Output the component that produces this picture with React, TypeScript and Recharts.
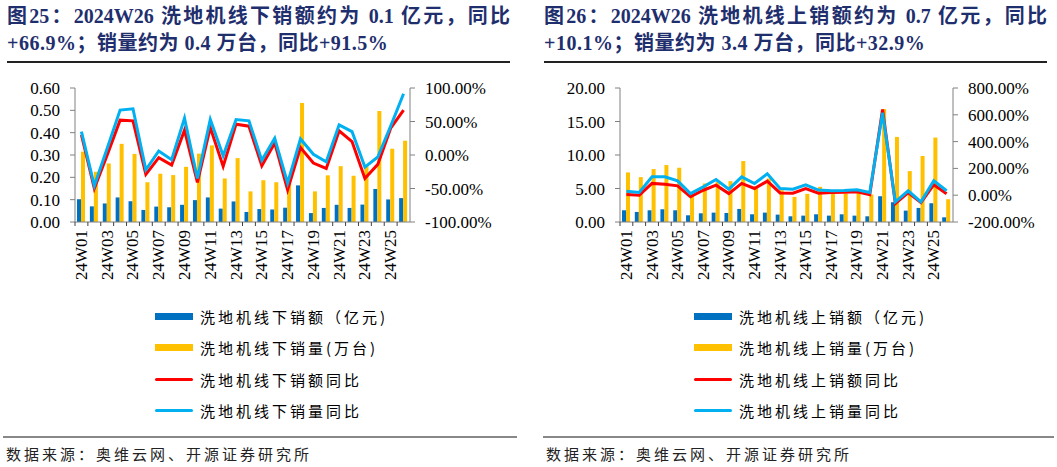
import React from "react";
import { Bar, ComposedChart, Line, XAxis, YAxis } from "recharts";

const weeks = [
  "24W01", "24W02", "24W03", "24W04", "24W05", "24W06", "24W07", "24W08", "24W09",
  "24W10", "24W11", "24W12", "24W13", "24W14", "24W15", "24W16", "24W17", "24W18",
  "24W19", "24W20", "24W21", "24W22", "24W23", "24W24", "24W25", "24W26",
];

// 线下
const offlineAmount = [
  0.102, 0.07, 0.083, 0.11, 0.093, 0.054, 0.069, 0.066, 0.077, 0.098, 0.11, 0.06, 0.092,
  0.045, 0.058, 0.056, 0.064, 0.164, 0.04, 0.063, 0.077, 0.063, 0.078, 0.148, 0.101, 0.107,
];
const offlineVolume = [
  0.315, 0.225, 0.262, 0.35, 0.305, 0.178, 0.216, 0.21, 0.247, 0.306, 0.343, 0.195, 0.286,
  0.137, 0.187, 0.178, 0.203, 0.533, 0.137, 0.209, 0.25, 0.207, 0.254, 0.497, 0.328, 0.364,
];
const offlineAmountYoy = [
  30, -50, 0, 52, 51, -29, -4, -15, 37, -41, 41, -17, 46, 43, -16, 18, -52, 11, -12, -20,
  36, 20, -35, -14, 40, 66.9,
];
const offlineVolumeYoy = [
  35, -46, 10, 67, 69, -22, 6, -7, 55, -35, 53, -1, 53, 51, -8, 25, -42, 24, 1, -10, 45,
  35, -18, -3, 43, 91.5,
];

// 线上
const onlineAmount = [
  1.75, 1.5, 1.75, 1.9, 1.75, 1.0, 1.3, 1.4, 1.35, 1.95, 1.15, 1.4, 1.1, 0.85, 0.95, 1.15,
  0.95, 1.15, 0.95, 0.85, 3.85, 2.95, 1.7, 2.1, 2.8, 0.7,
];
const onlineVolume = [
  7.4, 6.7, 7.9, 8.5, 8.1, 4.2, 5.75, 6.0, 6.1, 9.1, 5.3, 6.5, 4.75, 3.75, 4.2, 5.25, 4.25,
  4.25, 4.5, 4.1, 16.85, 12.7, 7.6, 9.85, 12.6, 3.4,
];
const onlineAmountYoy = [
  5, 0, 88, 82, 70, -12, 37, 75, 12, 88, 50, 105, 17, 15, 50, 15, 20, 22, 25, 3, 640, -63,
  20, -55, 78, 10.1,
];
const onlineVolumeYoy = [
  30, 20, 137, 137, 107, 12, 62, 117, 45, 137, 87, 160, 50, 45, 78, 38, 33, 35, 40, 20, 615,
  -50, 33, -50, 108, 32.9,
];

const offLeftTicks = [0, 0.1, 0.2, 0.3, 0.4, 0.5, 0.6];
const offRightTicks = [-100, -50, 0, 50, 100];
const onLeftTicks = [0, 5, 10, 15, 20];
const onRightTicks = [-200, 0, 200, 400, 600, 800];

const BLUE = "#0070C0";
const YELLOW = "#FFC000";
const RED = "#FF0000";
const CYAN = "#00B0F0";
const AXIS = "#808080";
const SERIF = '"Liberation Serif", "Times New Roman", serif';
const CJK = '"Liberation Serif", "Noto Sans CJK SC", sans-serif';

const TOP = 88;
const BOTTOM = 222;
const CH_H = 300;

function build(a: number[], v: number[], ay: number[], vy: number[]) {
  return weeks.map((w, i) => ({ week: w, amt: a[i], vol: v[i], amtYoy: ay[i], volYoy: vy[i] }));
}

interface PanelProps {
  title1: string;
  title2: string;
  titleLeft: number;
  plotLeft: number;
  plotRight: number;
  legendLeft: number;
  footLeft: number;
  footRight: number;
  data: any[];
  leftTicks: number[];
  rightTicks: number[];
  labels: string[];
}

function Panel(p: PanelProps) {
  const chartLeft = p.plotLeft - 75;
  const width = p.plotRight - chartLeft + 100;
  const step = (p.plotRight - p.plotLeft) / weeks.length;

  const XTick = (props: any) => {
    const { x, index } = props;
    return (
      <g>
        <line x1={x - step / 2} x2={x - step / 2} y1={BOTTOM} y2={BOTTOM + 4} stroke="#404040" />
        {index % 2 === 0 && (
          <text
            x={x}
            y={BOTTOM + 8}
            transform={`rotate(-90, ${x}, ${BOTTOM + 8})`}
            textAnchor="end"
            dominantBaseline="central"
            fontSize={17}
            fontFamily={SERIF}
            fill="#000"
          >
            {props.payload.value}
          </text>
        )}
      </g>
    );
  };

  const legendRows = [
    { label: p.labels[0], color: BLUE, bar: true },
    { label: p.labels[1], color: YELLOW, bar: true },
    { label: p.labels[2], color: RED, bar: false },
    { label: p.labels[3], color: CYAN, bar: false },
  ];

  const titleStyle: React.CSSProperties = {
    position: "absolute",
    left: p.titleLeft,
    fontFamily: CJK,
    fontWeight: "bold",
    fontSize: 20,
    letterSpacing: 0.5,
    color: "#1F2F6E",
    lineHeight: "28px",
    whiteSpace: "nowrap",
  };

  return (
    <>
      <div
        style={{
          ...titleStyle,
          top: 2,
          width: 503,
          letterSpacing: 0,
          textAlign: "justify",
          textAlignLast: "justify",
        }}
      >
        {p.title1}
      </div>
      <div style={{ ...titleStyle, top: 29 }}>{p.title2}</div>
      <div
        style={{
          position: "absolute",
          left: p.titleLeft,
          top: 61,
          width: 503,
          height: 2,
          background: "#222",
        }}
      />
      <div style={{ position: "absolute", left: chartLeft, top: 0 }}>
        <ComposedChart
          width={width}
          height={CH_H}
          data={p.data}
          margin={{ top: TOP, right: 40, left: 15, bottom: 8 }}
          barGap={0}
        >
          <XAxis
            dataKey="week"
            interval={0}
            height={70}
            tick={<XTick />}
            tickLine={false}
            axisLine={{ stroke: AXIS }}
          />
          <YAxis
            yAxisId="l"
            width={60}
            interval={0}
            domain={[p.leftTicks[0], p.leftTicks[p.leftTicks.length - 1]]}
            ticks={p.leftTicks}
            tickFormatter={(v: number) => v.toFixed(2)}
            tick={{ fontSize: 17, fontFamily: SERIF, fill: "#000" }}
            tickSize={5}
            tickMargin={10}
            axisLine={{ stroke: AXIS }}
            tickLine={{ stroke: AXIS }}
          />
          <YAxis
            yAxisId="r"
            orientation="right"
            width={60}
            interval={0}
            domain={[p.rightTicks[0], p.rightTicks[p.rightTicks.length - 1]]}
            ticks={p.rightTicks}
            tickFormatter={(v: number) => `${v.toFixed(2)}%`}
            tick={{ fontSize: 17, fontFamily: SERIF, fill: "#000", textAnchor: "start" }}
            tickSize={5}
            tickMargin={10}
            axisLine={{ stroke: AXIS }}
            tickLine={{ stroke: AXIS }}
          />
          <Bar yAxisId="l" dataKey="amt" fill={BLUE} barSize={4} isAnimationActive={false} />
          <Bar yAxisId="l" dataKey="vol" fill={YELLOW} barSize={4} isAnimationActive={false} />
          <Line
            yAxisId="r"
            dataKey="amtYoy"
            stroke={RED}
            strokeWidth={3}
            dot={false}
            type="linear"
            isAnimationActive={false}
          />
          <Line
            yAxisId="r"
            dataKey="volYoy"
            stroke={CYAN}
            strokeWidth={3}
            dot={false}
            type="linear"
            isAnimationActive={false}
          />
        </ComposedChart>
      </div>
      {legendRows.map((r, i) => (
        <div
          key={r.label}
          style={{
            position: "absolute",
            left: p.legendLeft,
            top: 305 + i * 31.5,
            height: 22,
            display: "flex",
            alignItems: "center",
            whiteSpace: "nowrap",
          }}
        >
          <span
            style={{
              display: "inline-block",
              width: 38,
              height: r.bar ? 7 : 3,
              background: r.color,
              borderRadius: r.bar ? 0 : 2,
              marginRight: 7,
            }}
          />
          <span
            style={{
              fontFamily: '"Noto Sans CJK SC", sans-serif',
              fontSize: 15,
              letterSpacing: 3,
              color: "#000",
            }}
          >
            {r.label}
          </span>
        </div>
      ))}
      <div
        style={{
          position: "absolute",
          left: p.footLeft,
          top: 436,
          width: p.footRight - p.footLeft,
          height: 2,
          background: "#888",
        }}
      />
      <div
        style={{
          position: "absolute",
          left: p.footLeft + 3,
          top: 443,
          fontFamily: '"Noto Sans CJK SC", sans-serif',
          fontSize: 15,
          letterSpacing: 3,
          color: "#222",
          whiteSpace: "nowrap",
        }}
      >
        数据来源：奥维云网、开源证券研究所
      </div>
    </>
  );
}

export default function App() {
  const offData = build(offlineAmount, offlineVolume, offlineAmountYoy, offlineVolumeYoy);
  const onData = build(onlineAmount, onlineVolume, onlineAmountYoy, onlineVolumeYoy);
  return (
    <div
      style={{
        position: "absolute",
        left: 0,
        top: 0,
        width: 1057,
        height: 467,
        background: "#fff",
        overflow: "hidden",
      }}
    >
      <Panel
        title1="图25：2024W26 洗地机线下销额约为 0.1 亿元，同比"
        title2="+66.9%；销量约为 0.4 万台，同比+91.5%"
        titleLeft={7}
        plotLeft={75}
        plotRight={410}
        legendLeft={155}
        footLeft={3}
        footRight={517}
        data={offData}
        leftTicks={offLeftTicks}
        rightTicks={offRightTicks}
        labels={["洗地机线下销额（亿元)", "洗地机线下销量(万台)", "洗地机线下销额同比", "洗地机线下销量同比"]}
      />
      <Panel
        title1="图26：2024W26 洗地机线上销额约为 0.7 亿元，同比"
        title2="+10.1%；销量约为 3.4 万台，同比+32.9%"
        titleLeft={544}
        plotLeft={620}
        plotRight={953}
        legendLeft={694}
        footLeft={543}
        footRight={1054}
        data={onData}
        leftTicks={onLeftTicks}
        rightTicks={onRightTicks}
        labels={["洗地机线上销额（亿元)", "洗地机线上销量(万台)", "洗地机线上销额同比", "洗地机线上销量同比"]}
      />
    </div>
  );
}
